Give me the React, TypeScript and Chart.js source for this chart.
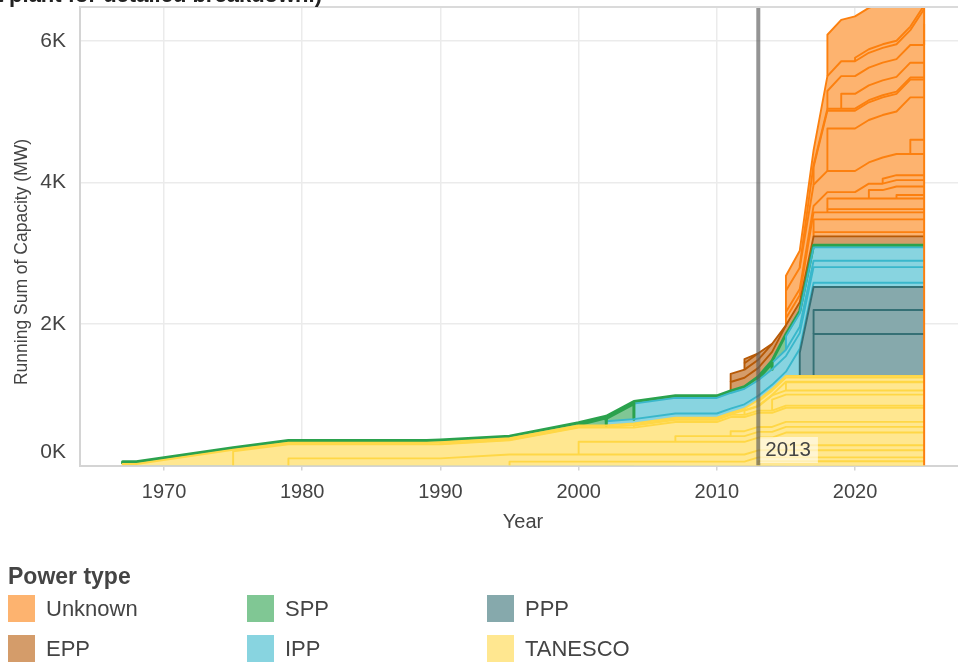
import React, { useEffect, useRef } from "react";
import { Chart, registerables } from "chart.js";

Chart.register(...registerables);

const FONT = '"Liberation Sans", Arial, Helvetica, sans-serif';
const TEXT = "#444444";

const CHART_TITLE = "Installed capacity by power type (hover over a plant for detailed breakdown.)";
const X_TITLE = "Year";
const Y_TITLE = "Running Sum of Capacity (MW)";
const LEGEND_TITLE = "Power type";
const TYPES = ["Unknown", "EPP", "SPP", "IPP", "PPP", "TANESCO"];
const TYPE_LINE: Record<string, string> = {
  Unknown: "rgb(252,128,15)",
  EPP: "rgb(183,90,7)",
  SPP: "rgb(43,162,77)",
  IPP: "rgb(57,183,203)",
  PPP: "rgb(53,112,117)",
  TANESCO: "rgb(255,215,70)",
};
const TYPE_FILL: Record<string, string> = {
  Unknown: "rgb(253,179,111)",
  EPP: "rgb(212,156,106)",
  SPP: "rgb(128,199,148)",
  IPP: "rgb(136,212,224)",
  PPP: "rgb(134,169,172)",
  TANESCO: "rgb(255,231,144)",
};

const YEARS = [1967, 1968, 1975, 1979, 1989, 1990, 1995, 2000, 2002, 2004, 2007, 2010, 2011, 2012, 2013, 2014, 2015, 2016, 2017, 2018, 2019, 2020, 2021, 2022, 2023, 2024, 2025];
const X_TICKS = [1970, 1980, 1990, 2000, 2010, 2020];
const Y_TICKS = [0, 2000, 4000, 6000];
const X_MIN = 1963.92;
const X_MAX = 2027.45;
const Y_MAX = 6480;
const MARKER_YEAR = 2013;
const LAST_YEAR = 2025;

// plants in stacking order (bottom -> top)
const PLANT_TYPE = [
  "TANESCO", "TANESCO", "TANESCO", "TANESCO", "TANESCO", "TANESCO", "TANESCO", "TANESCO",
  "TANESCO", "TANESCO", "TANESCO", "TANESCO", "TANESCO", "TANESCO", "TANESCO",
  "PPP", "PPP", "PPP",
  "SPP", "IPP", "SPP", "IPP", "SPP", "IPP", "IPP", "SPP",
  "EPP", "EPP", "EPP", "EPP",
  "Unknown", "Unknown", "Unknown", "Unknown", "Unknown", "Unknown", "Unknown", "Unknown",
  "Unknown", "Unknown", "Unknown", "Unknown", "Unknown", "Unknown", "Unknown", "Unknown",
  "Unknown", "Unknown", "Unknown", "Unknown", "Unknown", "Unknown", "Unknown", "Unknown",
];
const PLANT_START = [
  2013, 1995, 1979, 2015, 2000, 2007, 2011, 1975, 2004, 2014, 2012, 2015, 1990, 2013, 1967,
  2017, 2017, 2016,
  2000, 2002, 2002, 2004, 2013, 2014, 2015, 1967,
  2011, 2011, 2012, 2012,
  2017, 2017, 2015, 2018, 2018, 2023, 2021, 2015, 2022, 2015, 2024, 2018, 2017, 2016,
  2019, 2018, 2025, 2015, 2020, 2018, 2021, 2022, 2023, 2024,
];
const PLANT_MW: (number | [number, number])[] = [
  60, 55, 100, 71, 180, 80, 70, 200, 30, 155, 60, 115, 8, 60, 22,
  593, 339, 325,
  [10, 110], 60, [40, 220], 220, [20, 90], 90, 190, 30,
  125, 115, 90, 60,
  60, 180, 100, 45, 150, 50, 120, 90, 70, 300, 200, 600, 250, 30,
  210, 250, 300, 210, 50, 585, 150, 130, 250, 100,
];
const PLANT_END: (number | null)[] = [
  null, null, null, null, null, null, null, null, null, null, null, null, null, null, null,
  null, null, null,
  2002, null, 2004, null, 2014, null, null, null,
  null, 2015, 2014, 2013,
  null, null, null, null, null, null, null, null, null, null, null, null, null, null,
  null, null, null, null, null, null, null, null, null, null,
];

function present(i: number, t: number): boolean {
  const e = PLANT_END[i];
  return t >= PLANT_START[i] && (e === null || t < e);
}
function counted(i: number, t: number): number {
  if (!present(i, t)) return 0;
  const mw = PLANT_MW[i];
  return Array.isArray(mw) ? mw[0] : mw;
}

// each plant: outline = left edge + top edge (+ right edge), filled down to the axis;
// filled from the top of the stack downwards so lower plants paint over.
function buildOutlines() {
  const n = PLANT_TYPE.length;
  const base: number[][] = YEARS.map((t) => {
    const row: number[] = [];
    let acc = 0;
    for (let i = 0; i < n; i++) {
      row.push(acc);
      acc += counted(i, t);
    }
    return row;
  });
  return PLANT_TYPE.map((type, i) => {
    const pts: { x: number; lo: number; hi: number }[] = [];
    YEARS.forEach((t, k) => {
      if (present(i, t)) pts.push({ x: t, lo: base[k][i], hi: base[k][i] + counted(i, t) });
    });
    const e = PLANT_END[i];
    const mw = PLANT_MW[i];
    if (e !== null) {
      const k = YEARS.indexOf(e);
      const endVal = Array.isArray(mw) ? mw[1] : 0;
      pts.push({ x: e, lo: base[k][i], hi: base[k][i] + endVal });
    }
    const data = [{ x: pts[0].x, y: pts[0].lo }, ...pts.map((p) => ({ x: p.x, y: p.hi }))];
    if (e !== null && Array.isArray(mw)) {
      const last = pts[pts.length - 1];
      data.push({ x: last.x, y: last.lo });
    }
    return { type, data };
  });
}

function stackTotal(t: number): number {
  let s = 0;
  for (let i = 0; i < PLANT_TYPE.length; i++) s += counted(i, t);
  return s;
}

const decorPlugin = {
  id: "decor",
  afterDatasetsDraw(chart: any) {
    const { ctx, chartArea, scales } = chart;
    const px = scales.x.getPixelForValue(MARKER_YEAR);
    const label = String(MARKER_YEAR);
    ctx.save();
    ctx.font = `20.5px ${FONT}`;
    const w = ctx.measureText(label).width + 12;
    ctx.fillStyle = "rgba(255,255,255,0.6)";
    ctx.fillRect(px + 2, chartArea.bottom - 28.5, w, 26);
    ctx.fillStyle = TEXT;
    ctx.textBaseline = "middle";
    ctx.textAlign = "left";
    ctx.fillText(label, px + 7, chartArea.bottom - 15);
    ctx.restore();
  },
  afterDraw(chart: any) {
    const { ctx, chartArea, scales } = chart;
    ctx.save();
    ctx.strokeStyle = "#dadada";
    ctx.lineWidth = 2;
    ctx.beginPath();
    ctx.moveTo(chartArea.left, chartArea.top);
    ctx.lineTo(chartArea.right, chartArea.top);
    ctx.stroke();
    ctx.fillStyle = TEXT;
    ctx.font = `21px ${FONT}`;
    ctx.textAlign = "right";
    ctx.textBaseline = "middle";
    Y_TICKS.forEach((v) => {
      const py = scales.y.getPixelForValue(v) - (v === 0 ? 13 : 0);
      ctx.fillText(`${v / 1000}K`, chartArea.left - 14, py);
    });
    ctx.textAlign = "center";
    ctx.font = `20px ${FONT}`;
    ctx.fillText(X_TITLE, 523, 522);
    ctx.save();
    ctx.translate(22, 262);
    ctx.rotate(-Math.PI / 2);
    ctx.font = `17.5px ${FONT}`;
    ctx.fillText(Y_TITLE, 0, 0);
    ctx.restore();
    ctx.font = `bold 22px ${FONT}`;
    ctx.fillStyle = "#222";
    ctx.textAlign = "right";
    ctx.textBaseline = "alphabetic";
    ctx.fillText(CHART_TITLE, 322, 2);
    ctx.restore();
  },
};

export default function App() {
  const ref = useRef<HTMLCanvasElement>(null);
  useEffect(() => {
    const outlines = buildOutlines();
    const datasets: any[] = outlines.map((p, i) => ({
      label: p.type,
      data: p.data,
      fill: "origin",
      backgroundColor: TYPE_FILL[p.type],
      borderColor: TYPE_LINE[p.type],
      borderWidth: p.type === "SPP" ? 3 : 1.9,
      pointRadius: 0,
      pointHoverRadius: 0,
      tension: 0,
      borderJoinStyle: "round",
      order: i + 1,
    }));
    datasets.push({
      label: "edge",
      data: [
        { x: LAST_YEAR, y: 0 },
        { x: LAST_YEAR, y: stackTotal(LAST_YEAR) },
      ],
      borderColor: TYPE_LINE.Unknown,
      borderWidth: 2,
      pointRadius: 0,
      fill: false,
      order: 0.5,
    });
    datasets.push({
      label: "marker",
      data: [
        { x: MARKER_YEAR, y: 0 },
        { x: MARKER_YEAR, y: Y_MAX * 1.2 },
      ],
      borderColor: "rgba(90,90,90,0.65)",
      borderWidth: 4,
      pointRadius: 0,
      fill: false,
      order: 0,
    });
    const chart = new Chart(ref.current as HTMLCanvasElement, {
      type: "line",
      data: { datasets },
      options: {
        animation: false,
        responsive: false,
        devicePixelRatio: 1,
        events: [],
        layout: { padding: { left: 0, right: 0, top: 7, bottom: 126.5 } },
        plugins: {
          legend: { display: false },
          tooltip: { enabled: false },
          filler: { drawTime: "beforeDatasetsDraw" },
        },
        scales: {
          x: {
            type: "linear",
            min: X_MIN,
            max: X_MAX,
            afterBuildTicks: (s: any) => {
              s.ticks = X_TICKS.map((v) => ({ value: v }));
            },
            afterFit: (s: any) => {
              s.height = 70;
            },
            grid: { color: "#ebebeb", lineWidth: 1.5, tickLength: 5, tickColor: "#d4d4d4", drawTicks: true },
            border: { color: "#d4d4d4", width: 2 },
            ticks: {
              color: TEXT,
              font: { family: FONT, size: 20 },
              padding: 10,
              maxRotation: 0,
              autoSkip: false,
              callback: (v: any) => String(v),
            },
          },
          y: {
            type: "linear",
            min: 0,
            max: Y_MAX,
            afterBuildTicks: (s: any) => {
              s.ticks = Y_TICKS.map((v) => ({ value: v }));
            },
            afterFit: (s: any) => {
              s.width = 80;
            },
            grid: { color: "#ebebeb", lineWidth: 1.5, drawTicks: false },
            border: { color: "#d4d4d4", width: 2 },
            ticks: { display: false },
          },
        },
      } as any,
      plugins: [decorPlugin],
    });
    return () => chart.destroy();
  }, []);

  const LEG_X = [8, 247, 487];
  return (
    <div style={{ position: "fixed", left: 0, top: 0, width: 958, height: 662, background: "#fff", overflow: "hidden" }}>
      <canvas ref={ref} width={958} height={662} style={{ position: "absolute", left: 0, top: 0, width: 958, height: 662 }} />
      <div style={{ position: "absolute", left: 8, top: 563, font: `bold 23px ${FONT}`, color: TEXT, whiteSpace: "nowrap" }}>
        {LEGEND_TITLE}
      </div>
      {TYPES.map((t, i) => {
        const col = Math.floor(i / 2);
        const row = i % 2;
        return (
          <div
            key={t}
            style={{ position: "absolute", left: LEG_X[col], top: 595 + row * 40, height: 27, display: "flex", alignItems: "center" }}
          >
            <span style={{ display: "inline-block", width: 27, height: 27, background: TYPE_FILL[t] }} />
            <span style={{ marginLeft: 11, font: `22px ${FONT}`, color: TEXT, whiteSpace: "nowrap" }}>{t}</span>
          </div>
        );
      })}
    </div>
  );
}
